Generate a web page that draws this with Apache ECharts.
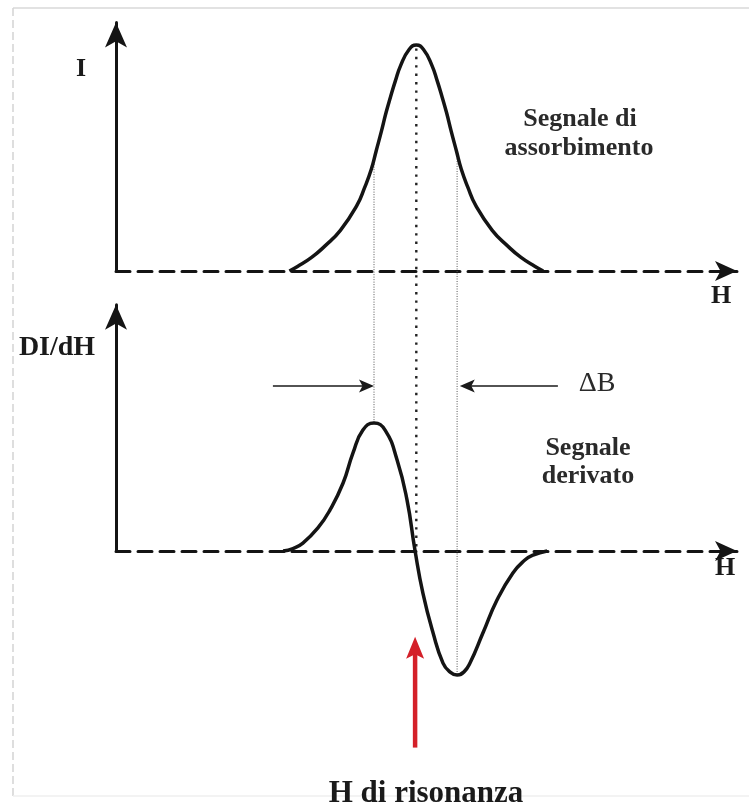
<!DOCTYPE html>
<html><head><meta charset="utf-8">
<script src="https://cdn.jsdelivr.net/npm/echarts@6/dist/echarts.min.js"></script>
<style>html,body{margin:0;padding:0;background:#fff}#c{width:749px;height:806px}</style>
</head><body><div id="c"></div>
<script>
// Absorption signal: field H (arbitrary units) and intensity I
const absH = [57.8, 60.5, 65.2, 69.6, 74.8, 80.3, 82.9, 85.1, 86.7, 88.5, 90.0, 91.5, 93.1, 94.9, 97.7, 100.1,
              102.5, 105.3, 107.1, 108.7, 110.2, 111.7, 113.5, 115.1, 117.3, 119.9, 125.4, 130.6, 135.0, 139.7, 142.4];
const absI = [0, 2, 6, 11, 18, 29, 37, 45, 53, 62, 70, 77, 84, 91, 98, 100,
              98, 91, 84, 77, 70, 62, 53, 45, 37, 29, 18, 11, 6, 2, 0];
// Derivative signal dI/dH
const derH = [55.7, 59.0, 62.3, 67.3, 71.3, 75.7, 79.0, 82.3, 86.0, 89.7, 93.7, 97.0, 99.7, 102.3, 105.7, 109.0,
              111.3, 113.7, 116.0, 118.0, 122.3, 127.0, 132.3, 136.3, 139.0, 143.7];
const derD = [0, 1.1, 3.5, 10.2, 18.1, 30.1, 43.4, 53.5, 56.6, 53.5, 40.3, 22.6, 0, -18.6, -36.3, -49.6,
              -53.5, -54.9, -53.5, -49.6, -36.3, -21.7, -9.7, -4.0, -1.8, 0];
// Guide lines: H position, level on absorption curve, level on derivative curve
const guideH   = [86.0, 100.1, 113.7];
const guideTop = [49.5, 98.5, 52.0];
const guideBot = [56.6, 0, -54.9];
// Delta B arrows (derivative units)
const dBLevel = 73;
const dBLeft  = [52.3, 86.0];
const dBRight = [147.3, 114.6];
// Resonance arrow
const resH = 99.7;
const resFrom = -87;
const resTo = -38;
// Texts
const labelI = 'I';
const labelD = 'DI/dH';
const labelH = 'H';
const absText = ['Segnale di', 'assorbimento'];
const derText = ['Segnale', 'derivato'];
const dBText = '\u0394B';
const resText = 'H di risonanza';

const INK = '#141414';
const SERIF = '"Liberation Serif","Times New Roman",serif';

function axisX(gi) {
  return {
    type: 'value', gridIndex: gi, min: 0, max: 207,
    axisLine: { show: true, onZero: false, symbol: ['none', 'arrow'], symbolSize: [15, 22],
      lineStyle: { color: INK, width: 3, type: [14, 8] } },
    axisTick: { show: false }, axisLabel: { show: false }, splitLine: { show: false }
  };
}
function axisY(gi, max) {
  return {
    type: 'value', gridIndex: gi, min: 0, max: max,
    axisLine: { show: true, onZero: false, symbol: ['none', 'arrow'], symbolSize: [16.5, 25],
      lineStyle: { color: INK, width: 3 } },
    axisTick: { show: false }, axisLabel: { show: false }, splitLine: { show: false }
  };
}

const option = {
  animation: false,
  backgroundColor: '#fff',
  grid: [
    { left: 116, right: 12, top: 22.4, height: 248.6 },
    { left: 116, right: 12, top: 304.7, height: 246.3 }
  ],
  xAxis: [axisX(0), axisX(1)],
  yAxis: [axisY(0, 110), axisY(1, 109)],
  series: [
    { type: 'line', xAxisIndex: 0, yAxisIndex: 0, data: absH.map((h, i) => [h, absI[i]]),
      smooth: 0.5, symbol: 'none', clip: false, z: 5,
      itemStyle: { color: INK }, lineStyle: { color: INK, width: 3.5 } },
    { type: 'line', xAxisIndex: 1, yAxisIndex: 1, data: derH.map((h, i) => [h, derD[i]]),
      smooth: 0.5, symbol: 'none', clip: false, z: 5,
      itemStyle: { color: INK }, lineStyle: { color: INK, width: 3.5 } }
  ]
};

const chart = echarts.init(document.getElementById('c'));
chart.setOption(option);

const p0 = (h, v) => chart.convertToPixel({ xAxisIndex: 0, yAxisIndex: 0 }, [h, v]);
const p1 = (h, v) => chart.convertToPixel({ xAxisIndex: 1, yAxisIndex: 1 }, [h, v]);

function txt(text, x, y, size, bold, color) {
  return { type: 'text', z: 20, style: {
    text: text, x: x, y: y, font: (bold ? 'bold ' : '') + size + 'px ' + SERIF,
    fill: color || '#1a1a1a', align: 'center', verticalAlign: 'middle',
    textAlign: 'center', textVerticalAlign: 'middle' } };
}
function line(a, b, stroke, w, dash) {
  return { type: 'line', z: 4, shape: { x1: a[0], y1: a[1], x2: b[0], y2: b[1] },
    style: { stroke: stroke, lineWidth: w, lineDash: dash || null } };
}
function hArrow(fromH, tipH) {
  const a = p1(fromH, dBLevel), t = p1(tipH, dBLevel);
  const dir = t[0] > a[0] ? 1 : -1;
  const L = 15, W = 6.5;
  return [
    line(a, [t[0] - dir * 10, t[1]], '#1a1a1a', 1.4),
    { type: 'polygon', z: 6, shape: { points: [
      [t[0], t[1]], [t[0] - dir * L, t[1] - W], [t[0] - dir * 11.5, t[1]], [t[0] - dir * L, t[1] + W]] },
      style: { fill: '#1a1a1a' } }
  ];
}

const g = [];
// faint page border
g.push(line([13, 8], [749, 8], '#e2e2e2', 2));
g.push(line([13, 8], [13, 796], '#d4d4d4', 1.5, [8, 4]));
g.push(line([13, 796], [749, 796], '#efefef', 1.5));
// guide lines
guideH.forEach((h, i) => {
  const a = p0(h, guideTop[i]), b = p1(h, guideBot[i]);
  if (i === 1) g.push(line(a, b, '#222', 2.4, [2.4, 6]));
  else g.push(line(a, b, '#555', 1, [1, 1.5]));
});
// delta B arrows
g.push(...hArrow(dBLeft[0], dBLeft[1]));
g.push(...hArrow(dBRight[0], dBRight[1]));
// resonance arrow
{
  const a = p1(resH, resFrom), t = p1(resH, resTo);
  g.push(line(a, [t[0], t[1] + 15], '#d42029', 4.5));
  g.push({ type: 'polygon', z: 6, shape: { points: [
    [t[0], t[1]], [t[0] + 9, t[1] + 22], [t[0], t[1] + 17.5], [t[0] - 9, t[1] + 22]] },
    style: { fill: '#d42029' } });
}
// texts
g.push(txt(labelI, 81, 69.5, 26, true));
g.push(txt(labelD, 57, 348, 28, true));
g.push(txt(labelH, 721, 296.5, 26, true));
g.push(txt(labelH, 725, 568.5, 26, true));
g.push(txt(absText[0], 580, 119.5, 26, true, '#2a2a2a'));
g.push(txt(absText[1], 579, 148.5, 26, true, '#2a2a2a'));
g.push(txt(derText[0], 588, 448.5, 26, true, '#2a2a2a'));
g.push(txt(derText[1], 588, 476.5, 26, true, '#2a2a2a'));
g.push(txt(dBText, 597, 384, 28, false, '#2a2a2a'));
g.push(txt(resText, 426, 794, 31, true));

chart.setOption({ graphic: g });
</script></body></html>
